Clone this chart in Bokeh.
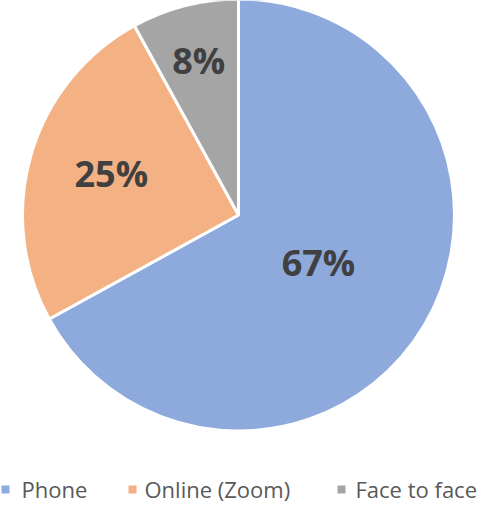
import math
from bokeh.plotting import figure
from bokeh.models import Range1d, ColumnDataSource
from bokeh.core.properties import value
from bokeh.embed import file_html
from bokeh.resources import INLINE

# ---- data ----
categories = ["Phone", "Online (Zoom)", "Face to face"]
shares = [67, 25, 8]
labels = ["67%", "25%", "8%"]
colors = ["#8EA9DB", "#F4B183", "#A5A5A5"]

# ---- layout (screen-pixel coordinates; data y = 519 - screen y) ----
label_radius_frac = [0.43, 0.62, 0.74]
label_angle_shift = [0.0, -0.035, 0.0]
legend_marker_x = [13, 140, 349]
legend_text_x = [29, 152, 363]

W, H = 481, 503
p = figure(width=W, height=H, x_range=Range1d(8, 489), y_range=Range1d(8, 511),
           output_backend="svg", toolbar_location=None, min_border=0)
p.axis.visible = False
p.grid.visible = False
p.outline_line_color = None
p.background_fill_color = "white"
p.border_fill_color = "white"

cx, cy, r = 246, 519 - 222.5, 216
total = float(sum(shares))
starts, ends, mids = [], [], []
a = math.pi / 2
for s in shares:
    e = a - 2 * math.pi * s / total
    starts.append(a)
    ends.append(e)
    mids.append((a + e) / 2)
    a = e

src = ColumnDataSource(dict(start=starts, end=ends, color=colors, cat=categories))
p.wedge(x=cx, y=cy, radius=r, start_angle="start", end_angle="end", direction="clock",
        fill_color="color", line_color="white", line_width=3, source=src)

lx = [cx + f * r * math.cos(m + d) for f, m, d in zip(label_radius_frac, mids, label_angle_shift)]
ly = [cy + f * r * math.sin(m + d) for f, m, d in zip(label_radius_frac, mids, label_angle_shift)]
p.text(x=lx, y=ly, text=labels, text_font=value("Open Sans"), text_font_style="bold",
       text_font_size="36px", text_color="#404040", text_align="center",
       text_baseline="middle")

# legend
p.scatter(x=legend_marker_x, y=[22] * 3, marker="square", size=8,
          fill_color=colors, line_color=None)
p.text(x=legend_text_x, y=[23] * 3, text=categories, text_font=value("Open Sans"),
       text_font_size="22px", text_color="#595959", text_align="left",
       text_baseline="middle")

open("out.html", "w").write(file_html(p, INLINE))
